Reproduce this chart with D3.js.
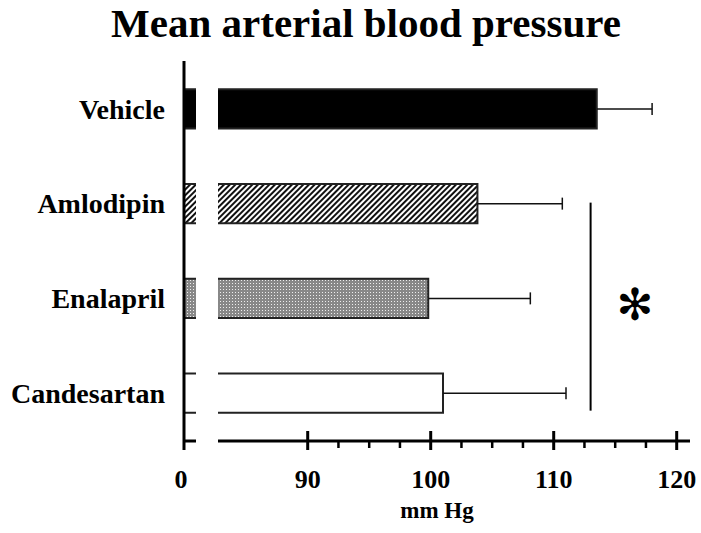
<!DOCTYPE html>
<html>
<head>
<meta charset="utf-8">
<script src="https://cdn.jsdelivr.net/npm/d3@7"></script>
<style>
  body { margin: 0; background: #fff; }
  svg { display: block; }
</style>
</head>
<body>
<div id="chart"></div>
<script>
// data
const groups = ["Vehicle", "Amlodipin", "Enalapril", "Candesartan"];
const means = [113.5, 103.8, 99.8, 101.0];
const sems = [4.5, 6.9, 8.3, 10.0];
const fills = ["solid", "hatch", "dots", "none"];
const ticksMajor = [90, 100, 110, 120];
const sigValue = 113.0;   // where the significance bracket sits
const starValue = 116.6;

const width = 701, height = 533;
const font = "'Liberation Serif', 'Times New Roman', serif";

const svg = d3.select("#chart").append("svg")
    .attr("width", width)
    .attr("height", height)
    .attr("font-family", font)
    .attr("font-weight", "bold");

const defs = svg.append("defs");

const hatch = defs.append("pattern")
    .attr("id", "hatch")
    .attr("patternUnits", "userSpaceOnUse")
    .attr("width", 4).attr("height", 4)
    .attr("patternTransform", "rotate(45)");
hatch.append("rect").attr("width", 4).attr("height", 4).attr("fill", "#fff");
hatch.append("rect").attr("width", 2).attr("height", 4).attr("fill", "#111");

const dots = defs.append("pattern")
    .attr("id", "dots")
    .attr("patternUnits", "userSpaceOnUse")
    .attr("width", 3).attr("height", 3);
dots.append("rect").attr("width", 3).attr("height", 3).attr("fill", "#888");
dots.append("rect").attr("x", 1).attr("y", 1).attr("width", 1).attr("height", 1).attr("fill", "#eee");

const fillOf = f => f === "solid" ? "#000" : f === "hatch" ? "url(#hatch)" : f === "dots" ? "url(#dots)" : "#fff";

// broken x axis: short stub near 0, then 90..120
const xLow = d3.scaleLinear().domain([0, 1]).range([184, 196]);
const x = d3.scaleLinear().domain([90, 120]).range([307.7, 676.7]);
const xStart = x.invert(218);
const xEnd = x.invert(690);

const y = d3.scaleBand()
    .domain(groups)
    .range([61.5, 440.5])
    .paddingInner(0.588)
    .paddingOuter(0.294);

const axisY = 441;
const edge = "#222";

// title
svg.append("text")
    .attr("x", 366).attr("y", 37)
    .attr("text-anchor", "middle")
    .attr("font-size", 41)
    .text("Mean arterial blood pressure");

const rows = groups.map((g, i) => ({ g, m: means[i], e: sems[i], f: fills[i] }));

const row = svg.selectAll("g.row")
  .data(rows)
  .join("g")
    .attr("class", "row");

// stub near zero (only top and bottom edges drawn)
row.append("rect")
    .attr("x", xLow(0))
    .attr("y", d => y(d.g))
    .attr("width", xLow(1) - xLow(0))
    .attr("height", y.bandwidth())
    .attr("fill", d => fillOf(d.f));
row.append("path")
    .attr("d", d => `M${xLow(0)},${y(d.g)}H${xLow(1)}M${xLow(0)},${y(d.g) + y.bandwidth()}H${xLow(1)}`)
    .attr("fill", "none")
    .attr("stroke", edge)
    .attr("stroke-width", 2);

// main bar (open on the left, at the break)
row.append("rect")
    .attr("x", x(xStart))
    .attr("y", d => y(d.g))
    .attr("width", d => x(d.m) - x(xStart))
    .attr("height", y.bandwidth())
    .attr("fill", d => fillOf(d.f));
row.append("path")
    .attr("d", d => `M${x(xStart)},${y(d.g)}H${x(d.m)}V${y(d.g) + y.bandwidth()}H${x(xStart)}`)
    .attr("fill", "none")
    .attr("stroke", edge)
    .attr("stroke-width", 2);

// error bars
row.append("line")
    .attr("x1", d => x(d.m)).attr("x2", d => x(d.m + d.e))
    .attr("y1", d => y(d.g) + y.bandwidth() / 2)
    .attr("y2", d => y(d.g) + y.bandwidth() / 2)
    .attr("stroke", "#111").attr("stroke-width", 1.5);
row.append("line")
    .attr("x1", d => x(d.m + d.e)).attr("x2", d => x(d.m + d.e))
    .attr("y1", d => y(d.g) + y.bandwidth() / 2 - 6)
    .attr("y2", d => y(d.g) + y.bandwidth() / 2 + 6)
    .attr("stroke", "#111").attr("stroke-width", 1.5);

// category labels
row.append("text")
    .attr("x", 165)
    .attr("y", d => y(d.g) + y.bandwidth() / 2)
    .attr("dy", "0.35em")
    .attr("text-anchor", "end")
    .attr("font-size", 28)
    .text(d => d.g);

// y axis line
svg.append("line")
    .attr("x1", 184).attr("x2", 184)
    .attr("y1", 61).attr("y2", 450)
    .attr("stroke", "#000").attr("stroke-width", 3);

// x axis, low stub
svg.append("line")
    .attr("x1", xLow(0)).attr("x2", xLow(1))
    .attr("y1", axisY).attr("y2", axisY)
    .attr("stroke", "#000").attr("stroke-width", 3);

// x axis, main part
svg.append("line")
    .attr("x1", x(xStart)).attr("x2", x(xEnd))
    .attr("y1", axisY).attr("y2", axisY)
    .attr("stroke", "#000").attr("stroke-width", 3);

const minor = d3.range(90, 120.01, 2.5).filter(v => v % 10 !== 0);
svg.selectAll("line.minor")
  .data(minor)
  .join("line")
    .attr("class", "minor")
    .attr("x1", d => x(d)).attr("x2", d => x(d))
    .attr("y1", axisY).attr("y2", axisY + 7)
    .attr("stroke", "#000").attr("stroke-width", 2.5);

svg.selectAll("line.major")
  .data(ticksMajor)
  .join("line")
    .attr("class", "major")
    .attr("x1", d => x(d)).attr("x2", d => x(d))
    .attr("y1", axisY - 10).attr("y2", axisY + 9)
    .attr("stroke", "#000").attr("stroke-width", 3);

svg.selectAll("text.tick")
  .data(ticksMajor)
  .join("text")
    .attr("class", "tick")
    .attr("x", d => x(d))
    .attr("y", 488)
    .attr("text-anchor", "middle")
    .attr("font-size", 26)
    .text(d => d);

svg.append("text")
    .attr("x", xLow(0) - 3).attr("y", 488)
    .attr("text-anchor", "middle")
    .attr("font-size", 26)
    .text("0");

svg.append("text")
    .attr("x", 437).attr("y", 518)
    .attr("text-anchor", "middle")
    .attr("font-size", 23)
    .text("mm Hg");

// significance bracket and star
const sigTop = y("Amlodipin") + y.bandwidth() / 2 - 1;
const sigBottom = y("Candesartan") + y.bandwidth() - 2;
svg.append("line")
    .attr("x1", x(sigValue)).attr("x2", x(sigValue))
    .attr("y1", sigTop).attr("y2", sigBottom)
    .attr("stroke", "#000").attr("stroke-width", 2);

svg.append("text")
    .attr("x", x(starValue))
    .attr("y", (y("Enalapril") + y.bandwidth() / 2) + 6)
    .attr("dy", "0.35em")
    .attr("text-anchor", "middle")
    .attr("font-family", "'DejaVu Sans', sans-serif")
    .attr("font-weight", "normal")
    .attr("font-size", 44)
    .text("\u273B");
</script>
</body>
</html>
